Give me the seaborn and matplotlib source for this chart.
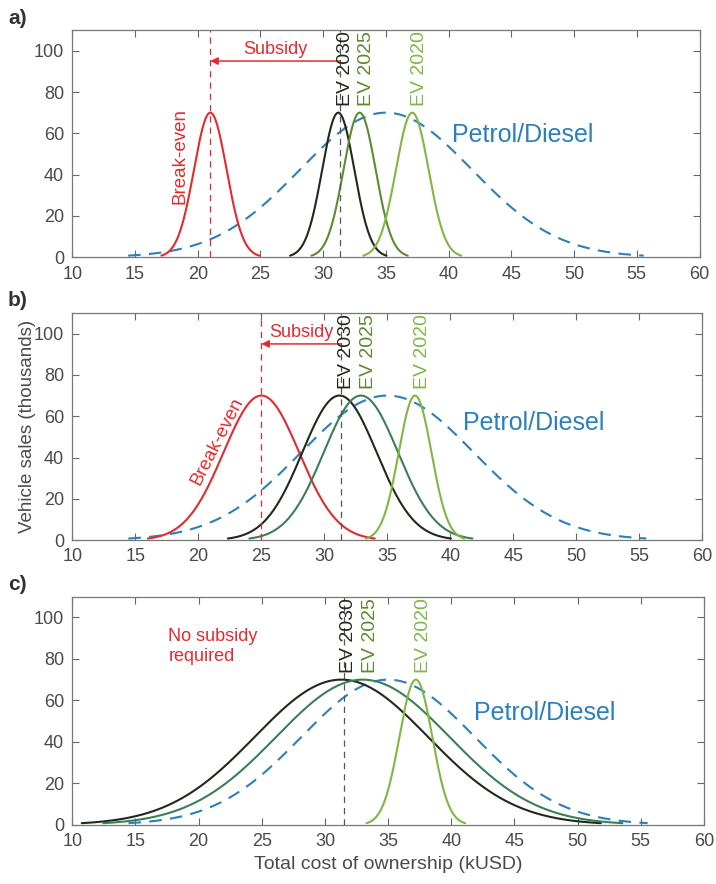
import numpy as np
import pandas as pd
import matplotlib
matplotlib.use("Agg")
import matplotlib.pyplot as plt
import seaborn as sns

# curve parameters: peak position, spread (kUSD), peak height (thousands)
panels = ["a)", "b)", "c)"]
curve_names = ["Petrol/Diesel", "Break-even", "EV 2030", "EV 2025", "EV 2020"]
peak_a = [35.0, 21.0, 31.2, 32.9, 37.1]
spread_a = [6.85, 1.3, 1.28, 1.28, 1.3]
peak_b = [35.0, 25.0, 31.2, 32.9, 37.2]
spread_b = [6.85, 3.0, 2.95, 2.95, 1.3]
peak_c = [35.0, None, 31.3, 33.0, 37.2]
spread_c = [6.85, None, 6.85, 6.85, 1.3]
peak_height = 70

breakeven_line = [21.0, 25.0, None]
ev2030_line = [31.3, 31.3, 31.5]
xticks = list(range(10, 61, 5))
yticks = list(range(0, 101, 20))

sns.set_style("ticks")
plt.rcParams["font.family"] = ["Liberation Sans", "DejaVu Sans"]

RED = "#e52a2e"
BLUE = "#2b7fbc"
C2030 = "#1f2a1d"
C2025_A = "#5b8c32"
C2025_BC = "#3b7f56"
C2025_LBL = "#5a8a2c"
C2020 = "#7db843"
GREY = "#555555"
TXT = "#4a4a4a"


def curve_frame(peaks, spreads):
    rows = []
    for name, m, s in zip(curve_names, peaks, spreads):
        if m is None:
            continue
        xs = np.linspace(m - 3 * s, m + 3 * s, 200)
        ys = peak_height * np.exp(-(xs - m) ** 2 / (2 * s ** 2))
        rows.append(pd.DataFrame({"cost": xs, "sales": ys, "curve": name}))
    return pd.concat(rows, ignore_index=True)


fig = plt.figure(figsize=(7.16, 8.84), dpi=100)
boxes = [[0.101, 0.709, 0.876, 0.257],
         [0.101, 0.389, 0.880, 0.257],
         [0.101, 0.067, 0.882, 0.258]]
params = [(peak_a, spread_a), (peak_b, spread_b), (peak_c, spread_c)]
pd_pos = [(40.3, 59), (41.0, 56.5), (41.8, 54)]

for i, (box, (pk, sp)) in enumerate(zip(boxes, params)):
    ax = fig.add_axes(box)
    df = curve_frame(pk, sp)
    c2025 = C2025_A if i == 0 else C2025_BC
    palette = {"Petrol/Diesel": BLUE, "Break-even": RED, "EV 2030": C2030,
               "EV 2025": c2025, "EV 2020": C2020}
    for name in curve_names:
        sub = df[df["curve"] == name]
        if sub.empty:
            continue
        ls = (0, (6, 4)) if name == "Petrol/Diesel" else "-"
        sns.lineplot(data=sub, x="cost", y="sales", color=palette[name],
                     linestyle=ls, lw=1.5, ax=ax, legend=False)

    ax.set_xlim(10, 60)
    ax.set_ylim(0, 110)
    ax.set_xticks(xticks)
    ax.set_yticks(yticks)
    ax.tick_params(direction="in", top=True, right=True, labelsize=13,
                   colors="#666666", labelcolor=TXT, length=5, width=0.8, pad=6)
    for sp_ in ax.spines.values():
        sp_.set_color("#777777")
        sp_.set_linewidth(0.9)
    ax.set_xlabel("")
    ax.set_ylabel("")

    # vertical markers
    ax.axvline(ev2030_line[i], color=GREY, ls=(0, (5, 4)), lw=0.9)
    if breakeven_line[i] is not None:
        ax.axvline(breakeven_line[i], color=RED, ls=(0, (5, 4)), lw=0.9)
        ax.annotate("", xy=(breakeven_line[i], 95), xytext=(ev2030_line[i], 95),
                    arrowprops=dict(arrowstyle="-|>", color=RED, lw=1.1,
                                    mutation_scale=11, shrinkA=0, shrinkB=0))
        ax.text((breakeven_line[i] + ev2030_line[i]) / 2, 96.5, "Subsidy",
                color=RED, fontsize=13, ha="center", va="bottom")

    # curve labels
    ax.text(pk[2] - 0.1, 73, "EV 2030", rotation=90, color=C2030, fontsize=14,
            ha="left", va="bottom")
    ax.text(pk[3] - 0.1, 73, "EV 2025", rotation=90, color=C2025_LBL, fontsize=14,
            ha="left", va="bottom")
    ax.text(pk[4] - 0.1, 73, "EV 2020", rotation=90, color=C2020, fontsize=14,
            ha="left", va="bottom")
    ax.text(pd_pos[i][0], pd_pos[i][1], "Petrol/Diesel", color=BLUE, fontsize=18,
            ha="left", va="center")

    if i == 0:
        ax.text(18.6, 49, "Break-even", rotation=90, color=RED, fontsize=13.5,
                ha="center", va="center")
    elif i == 1:
        ax.text(21.5, 48, "Break-even", rotation=63, color=RED, fontsize=13.5,
                ha="center", va="center")
    else:
        ax.text(17.6, 86, "No subsidy\nrequired", color=RED, fontsize=13,
                ha="left", va="center", linespacing=1.25)

    if i == 1:
        ax.set_ylabel("Vehicle sales (thousands)", fontsize=13.5, color=TXT)
        ax.yaxis.set_label_coords(-0.058, 0.5)
    if i == 2:
        ax.set_xlabel("Total cost of ownership (kUSD)", fontsize=14,
                      color=TXT, labelpad=4)

    top_px = (1 - box[1] - box[3]) * 884
    fig.text(8 / 716, 1 - (top_px - 12) / 884, panels[i], fontsize=15,
             fontweight="bold", color="#333333", ha="left", va="center")

fig.savefig("out.png", dpi=100)
